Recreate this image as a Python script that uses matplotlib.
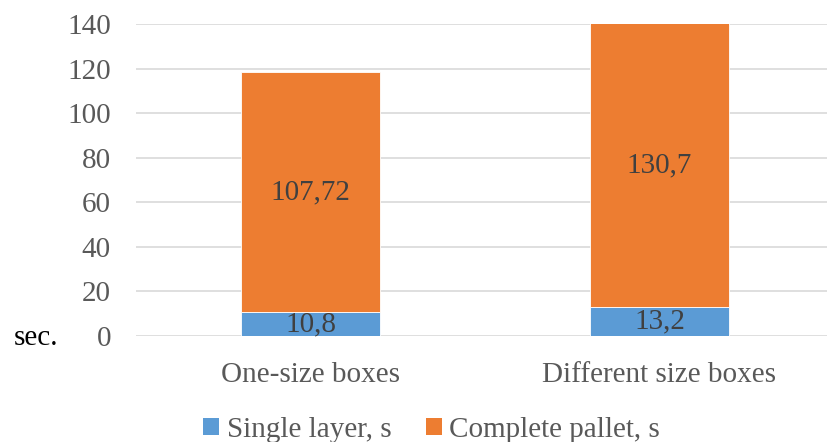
import matplotlib
matplotlib.use("Agg")
import matplotlib.pyplot as plt
from matplotlib.patches import Patch

categories = ["One-size boxes", "Different size boxes"]
single_layer = [10.8, 13.2]
complete_pallet = [107.72, 130.7]
series_names = ["Single layer, s", "Complete pallet, s"]
y_ticks = [0, 20, 40, 60, 80, 100, 120, 140]

BLUE = "#5B9BD5"
ORANGE = "#ED7D31"
GRAY = "#595959"
FS = 21

plt.rcParams["font.family"] = ["Liberation Serif", "DejaVu Serif"]

fig = plt.figure(figsize=(8.27, 4.42), dpi=100)
ax = fig.add_axes([136 / 827, 1 - 336 / 442, 1 - 136 / 827, (336 - 24) / 442])

x = list(range(len(categories)))
width = 0.4
ymax = y_ticks[-1]

ax.bar(x, single_layer, width, color=BLUE, edgecolor="white", linewidth=0.6, zorder=3)
ax.bar(x, complete_pallet, width, bottom=single_layer, color=ORANGE,
       edgecolor="white", linewidth=0.6, zorder=3)

ax.set_ylim(0, ymax)
ax.set_xlim(-0.5, 1.48)
ax.set_yticks(y_ticks)
ax.set_xticks(x)
ax.set_xticklabels(categories)
ax.tick_params(axis="both", length=0, labelsize=FS, colors=GRAY)
ax.tick_params(axis="x", pad=19)
ax.tick_params(axis="y", pad=18)
ax.yaxis.grid(True, color="#D9D9D9", linewidth=1.2, zorder=0)
for s in ax.spines.values():
    s.set_visible(False)


def fmt(v):
    return f"{v:g}".replace(".", ",")


# value labels centred on the visible part of each segment
for i in x:
    b0, b1 = 0, single_layer[i]
    ax.text(i, (b0 + min(b1, ymax)) / 2, fmt(single_layer[i]), ha="center", va="center",
            fontsize=FS, color="#404040", zorder=4)
    t0, t1 = single_layer[i], single_layer[i] + complete_pallet[i]
    ax.text(i, (t0 + min(t1, ymax)) / 2, fmt(complete_pallet[i]), ha="center", va="center",
            fontsize=FS, color="#404040", zorder=4)

fig.text(14 / 827, 1 - 338 / 442, "sec.", fontsize=FS, color="black", ha="left", va="center")

handles = [Patch(facecolor=BLUE), Patch(facecolor=ORANGE)]
fig.legend(handles, series_names, loc="center", bbox_to_anchor=(0.522, 1 - 430 / 442),
           ncol=2, frameon=False, fontsize=FS, handlelength=0.55, handleheight=0.55,
           handletextpad=0.25, columnspacing=1.2, labelcolor=GRAY, borderaxespad=0)

fig.savefig("out.png", dpi=100)
